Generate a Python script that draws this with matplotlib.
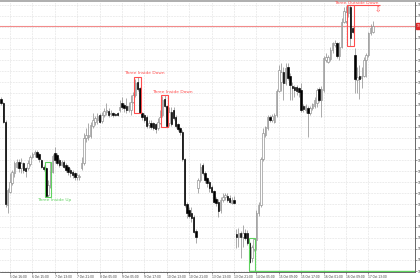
import numpy as np
import matplotlib
matplotlib.use('Agg')
import matplotlib.pyplot as plt
import matplotlib.transforms as mtransforms
from matplotlib.patches import Rectangle
from matplotlib.lines import Line2D

# hourly bars
opens = [107.02, 106.90, 106.35, 103.85, 104.25, 104.50, 104.80, 105.00, 105.15, 104.95,
         105.10, 104.95, 104.95, 105.08, 105.30, 105.38, 105.45, 105.38, 105.20, 105.00,
         104.95, 104.15, 104.40, 104.85, 105.40, 105.35, 105.20, 105.05, 105.15, 105.05,
         105.00, 104.90, 104.85, 104.80, 104.68, 104.68, 104.95, 105.10, 105.85, 105.90,
         105.92, 106.22, 106.35, 106.40, 106.55, 106.38, 106.55, 106.65, 106.68, 106.57,
         106.60, 106.58, 106.60, 106.70, 106.92, 106.85, 106.82, 106.70, 106.70, 106.95,
         107.15, 107.55, 107.35, 106.62, 106.55, 106.50, 106.25, 106.32, 106.30, 106.28,
         106.15, 106.32, 106.55, 107.02, 106.82, 106.30, 106.65, 106.70, 106.50, 106.28,
         106.15, 106.05, 105.22, 103.88, 103.70, 103.60, 103.50, 103.08, 104.35, 104.60,
         105.05, 104.82, 104.65, 104.55, 104.40, 104.28, 104.02, 103.95, 103.70, 104.00,
         104.08, 104.12, 104.05, 103.92, 104.00, 102.97, 102.88, 103.00, 102.88, 103.00,
         103.00, 102.70, 102.25, 102.52, 102.80, 103.60, 103.85, 105.22, 105.95, 106.15,
         106.50, 106.40, 106.35, 106.55, 107.28, 107.55, 107.85, 107.52, 108.00, 107.72,
         107.42, 107.38, 107.38, 107.35, 107.30, 106.82, 106.70, 106.75, 106.60, 106.75,
         106.82, 106.90, 107.32, 107.00, 107.30, 108.20, 108.15, 108.22, 108.50, 108.65,
         108.70, 108.32, 108.60, 109.35, 109.38, 109.60, 109.80, 109.15, 108.35, 107.60,
         107.72, 107.65, 107.72, 108.20, 108.35, 109.00, 109.05]
highs = [107.08, 106.95, 106.40, 104.35, 104.80, 104.90, 105.18, 105.22, 105.22, 105.25,
         105.15, 105.00, 105.20, 105.35, 105.45, 105.50, 105.50, 105.42, 105.24, 105.05,
         105.00, 104.60, 105.15, 105.38, 105.58, 105.42, 105.25, 105.20, 105.20, 105.10,
         105.05, 104.95, 104.90, 104.85, 104.80, 104.78, 105.30, 106.00, 106.15, 106.30,
         106.35, 106.60, 106.52, 106.60, 106.60, 106.65, 106.75, 106.90, 106.75, 106.70,
         106.64, 106.62, 106.65, 107.00, 107.10, 106.90, 107.05, 106.95, 107.15, 107.25,
         107.62, 107.68, 107.38, 106.65, 106.60, 106.55, 106.40, 106.40, 106.35, 106.32,
         106.45, 106.70, 107.12, 107.15, 106.84, 106.80, 106.78, 106.80, 106.55, 106.32,
         106.20, 106.10, 105.25, 103.95, 103.80, 103.78, 103.55, 103.12, 104.65, 105.12,
         105.12, 104.88, 104.70, 104.60, 104.45, 104.30, 104.08, 104.02, 104.10, 104.22,
         104.22, 104.22, 104.15, 104.10, 104.12, 103.12, 103.15, 103.08, 103.25, 103.12,
         103.10, 102.75, 102.65, 102.86, 103.70, 103.95, 105.30, 106.15, 106.22, 106.55,
         106.55, 106.58, 106.60, 107.32, 108.05, 108.12, 108.00, 108.12, 108.12, 107.80,
         107.55, 107.45, 107.45, 107.40, 107.50, 106.88, 106.88, 106.82, 106.82, 106.92,
         107.10, 107.35, 107.38, 107.42, 108.32, 108.40, 108.35, 108.60, 108.75, 108.80,
         108.75, 108.75, 109.45, 109.80, 109.82, 109.85, 109.86, 109.20, 108.55, 108.00,
         108.05, 108.00, 108.30, 108.40, 109.05, 109.28, 109.38]
lows = [106.85, 106.32, 103.80, 103.60, 104.20, 104.45, 104.70, 104.95, 104.85, 104.80,
        104.80, 104.70, 104.90, 105.02, 105.25, 105.30, 105.25, 105.15, 104.95, 104.88,
        104.10, 104.10, 104.35, 104.80, 105.10, 105.05, 105.00, 105.02, 104.95, 104.85,
        104.75, 104.70, 104.65, 104.60, 104.60, 104.60, 104.90, 105.05, 105.75, 105.80,
        105.85, 106.15, 106.25, 106.28, 106.30, 106.32, 106.50, 106.55, 106.50, 106.52,
        106.50, 106.52, 106.52, 106.65, 106.72, 106.65, 106.60, 106.65, 106.55, 106.90,
        107.10, 107.28, 106.60, 106.40, 106.35, 106.15, 106.15, 106.12, 106.10, 106.02,
        106.10, 106.28, 106.50, 106.78, 106.20, 106.22, 106.22, 106.40, 106.15, 106.08,
        105.95, 105.18, 103.80, 103.45, 103.45, 103.35, 103.00, 102.72, 104.20, 104.55,
        104.75, 104.52, 104.40, 104.25, 104.20, 103.90, 103.82, 103.50, 103.60, 103.95,
        104.00, 103.95, 103.90, 103.88, 103.88, 102.55, 102.60, 102.25, 102.60, 102.80,
        102.65, 102.10, 102.15, 102.48, 102.50, 103.52, 103.80, 105.18, 105.90, 106.10,
        106.35, 106.34, 106.30, 106.50, 107.25, 107.28, 107.00, 107.45, 107.60, 107.00,
        107.00, 107.10, 107.15, 107.10, 106.65, 106.65, 106.60, 105.90, 106.55, 106.70,
        106.75, 106.80, 106.95, 106.50, 107.25, 108.15, 108.10, 108.18, 108.40, 108.60,
        108.25, 108.20, 108.55, 109.30, 109.32, 109.50, 108.62, 109.00, 107.22, 107.20,
        107.02, 107.35, 107.68, 107.70, 108.30, 108.95, 109.00]
closes = [106.90, 106.35, 103.88, 104.30, 104.55, 104.85, 105.10, 105.15, 104.95, 105.12,
          104.90, 104.88, 105.10, 105.30, 105.38, 105.45, 105.30, 105.22, 105.00, 104.93,
          104.12, 104.45, 104.85, 105.32, 105.20, 105.10, 105.05, 105.15, 105.00, 104.90,
          104.85, 104.80, 104.75, 104.70, 104.75, 104.73, 105.10, 105.85, 105.95, 105.95,
          106.25, 106.40, 106.45, 106.52, 106.35, 106.55, 106.68, 106.70, 106.55, 106.60,
          106.55, 106.56, 106.55, 106.80, 106.80, 106.75, 106.70, 106.82, 106.95, 107.15,
          107.50, 107.32, 106.62, 106.48, 106.40, 106.22, 106.32, 106.18, 106.15, 106.12,
          106.35, 106.50, 107.00, 106.82, 106.22, 106.65, 106.28, 106.45, 106.22, 106.12,
          106.05, 105.22, 103.85, 103.60, 103.52, 103.45, 103.05, 102.88, 104.60, 105.00,
          104.80, 104.60, 104.50, 104.35, 104.25, 103.95, 103.90, 103.68, 104.00, 104.10,
          104.15, 104.00, 103.95, 104.00, 103.90, 102.90, 103.00, 102.88, 103.00, 102.85,
          102.70, 102.15, 102.58, 102.82, 103.60, 103.85, 105.22, 106.00, 106.18, 106.48,
          106.40, 106.52, 106.55, 107.28, 107.90, 107.85, 107.52, 107.95, 107.65, 107.45,
          107.35, 107.30, 107.28, 107.25, 106.70, 106.72, 106.82, 106.60, 106.75, 106.88,
          107.00, 107.30, 107.00, 107.32, 108.25, 108.30, 108.28, 108.50, 108.70, 108.72,
          108.32, 108.60, 109.35, 109.68, 109.65, 109.78, 108.85, 109.05, 107.62, 107.70,
          107.62, 107.72, 108.20, 108.35, 109.00, 109.15, 109.22]

time_labels = ["5 Oct 16:00", "6 Oct 15:00", "7 Oct 13:00", "7 Oct 21:00", "8 Oct 05:00",
               "9 Oct 05:00", "9 Oct 17:00", "10 Oct 13:00", "10 Oct 21:00", "13 Oct 13:00",
               "13 Oct 21:00", "14 Oct 05:00", "15 Oct 09:00", "15 Oct 17:00", "16 Oct 01:00",
               "16 Oct 09:00", "17 Oct 13:00"]
label_bars = [4, 14, 24, 34, 44, 54, 64, 74, 84, 94, 104, 114, 124, 134, 144, 154, 164]

# (name, first bar, last bar)
patterns = [("Three Inside Up", 20, 22),
            ("Three Inside Down", 60, 62),
            ("Three Inside Down", 72, 74),
            ("Three Outside Down", 155, 157)]
bid = 109.22
support = 101.88

RED = '#ff4d4d'
GREEN = '#5fd35f'

o = np.array(opens); h = np.array(highs); l = np.array(lows); c = np.array(closes)
x = np.arange(len(o))
up = c >= o

fig = plt.figure(figsize=(4.2, 2.8), dpi=100)
ax = fig.add_axes([0, 8/280, 415/420, 270/280])
ax.set_xlim(-0.46, 184.8)
ax.set_ylim(101.84, 109.94)

ax.vlines(x, l, h, color='#8a8a8a', lw=0.5, zorder=2)
ax.bar(x[up], (c - o)[up], bottom=o[up], width=0.66, color='white',
       edgecolor='#8a8a8a', lw=0.45, zorder=3)
ax.bar(x[~up], (o - c)[~up], bottom=c[~up], width=0.66, color='black',
       edgecolor='black', lw=0.45, zorder=3)

# pattern boxes
for name, i0, i1 in patterns:
    col = GREEN if name.endswith('Up') else RED
    hi = h[i0:i1 + 1].max(); lo = l[i0:i1 + 1].min()
    ax.add_patch(Rectangle((i0 - 0.5, lo), i1 - i0 + 1, hi - lo, fill=False,
                           edgecolor=col, lw=0.8, zorder=4))

ax.text(23.8, 104.00, "Three Inside Up", color=GREEN, fontsize=3.2, ha='center', va='center')
ax.text(63.8, 107.80, "Three Inside Down", color=RED, fontsize=3.2, ha='center', va='center')
ax.text(76.5, 107.24, "Three Inside Down", color=RED, fontsize=3.2, ha='center', va='center')
ax.text(158.8, 109.90, "Three Outside Down", color=RED, fontsize=3.2, ha='center',
        va='center', clip_on=False, zorder=6)
top3 = h[155:158].max()
ax.hlines(top3, 154.5, 169.2, color=RED, lw=0.8, zorder=4)
ax.text(168.3, 109.68, "\u21e9", color=RED, fontsize=5.5, ha='center', va='center')

# second inside-up box running into the lower level
ax.add_patch(Rectangle((110.5, support), 3, h[111:114].max() - support, fill=False,
                       edgecolor=GREEN, lw=0.8, zorder=4))
ax.hlines(support, 110.5, 184.8, color=GREEN, lw=1.0, zorder=4)

# bid line
ax.axhline(bid, color='#f28b8b', lw=0.8, zorder=1)
trans = mtransforms.blended_transform_factory(ax.transAxes, ax.transData)
ax.text(1.004, bid, "%.2f" % bid, transform=trans, color='white', fontsize=2.1,
        ha='left', va='center', clip_on=False,
        bbox=dict(boxstyle='square,pad=0.25', fc='#e0282a', ec='#e0282a'))

ax.yaxis.tick_right()
ax.set_yticks(109.86 - 0.333 * np.arange(25))
ax.set_yticklabels(["%.2f" % v for v in 109.86 - 0.333 * np.arange(25)])
ax.set_xticks(label_bars)
ax.set_xticklabels(time_labels, ha='left')
ax.tick_params(labelsize=2.1, length=1.2, width=0.4, color='#505050', pad=0.8,
               labelcolor='#303030')

ax.grid(True, color='#cfcfcf', ls=(0, (1, 1.5)), lw=0.45)
ax.set_axisbelow(True)
ax.spines['left'].set_visible(False)
ax.spines['top'].set_visible(False)
for s in ('right', 'bottom'):
    ax.spines[s].set_color('#505050')
    ax.spines[s].set_linewidth(0.6)
fig.add_artist(Line2D([0, 1], [1 - 1/280, 1 - 1/280], color='#a8a8a8', lw=1.3, zorder=0))

fig.savefig('out.png', dpi=100)
